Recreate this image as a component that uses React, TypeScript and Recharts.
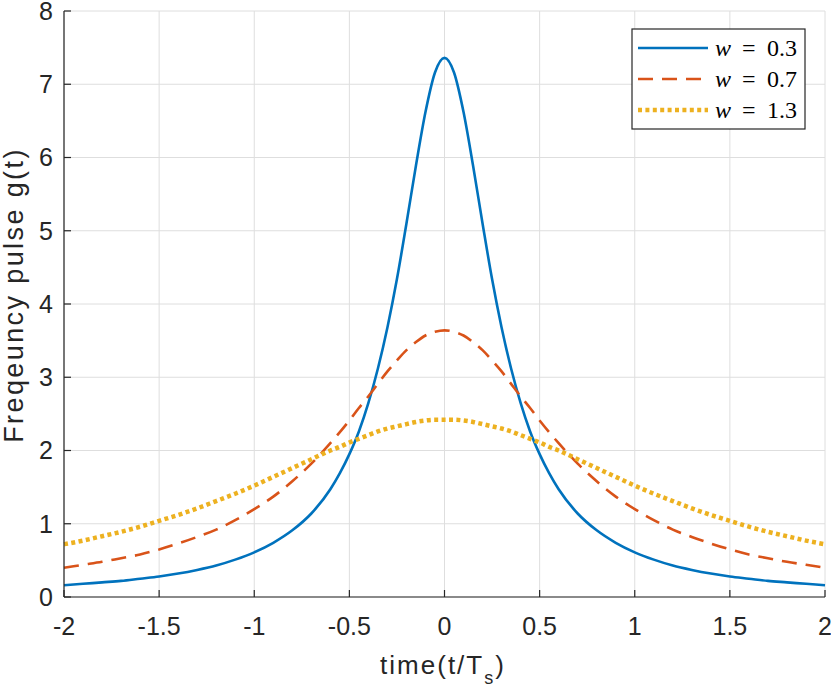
import { LineChart, Line, XAxis, YAxis, CartesianGrid, Label } from 'recharts';

// sample times (t/Ts), denser near the peak
const timeValues = [
  -2, -1.9, -1.8, -1.7, -1.6, -1.5, -1.4, -1.3, -1.2, -1.1, -1, -0.9, -0.8, -0.7, -0.6, -0.55, -0.5, -0.45, -0.4,
  -0.35, -0.3, -0.25, -0.2, -0.15, -0.1, -0.05, 0, 0.05, 0.1, 0.15, 0.2, 0.25, 0.3, 0.35, 0.4, 0.45, 0.5, 0.55,
  0.6, 0.7, 0.8, 0.9, 1, 1.1, 1.2, 1.3, 1.4, 1.5, 1.6, 1.7, 1.8, 1.9, 2,
];

const pulseW03 = [
  0.16, 0.18, 0.2, 0.22, 0.25, 0.28, 0.32, 0.37, 0.43, 0.51, 0.61, 0.74, 0.91, 1.14, 1.47, 1.69, 1.95, 2.26, 2.65,
  3.12, 3.68, 4.34, 5.1, 5.89, 6.62, 7.16, 7.36, 7.16, 6.62, 5.89, 5.1, 4.34, 3.68, 3.12, 2.65, 2.26, 1.95, 1.69,
  1.47, 1.14, 0.91, 0.74, 0.61, 0.51, 0.43, 0.37, 0.32, 0.28, 0.25, 0.22, 0.2, 0.18, 0.16,
];

const pulseW07 = [
  0.4, 0.44, 0.48, 0.53, 0.58, 0.65, 0.73, 0.82, 0.92, 1.05, 1.2, 1.37, 1.58, 1.82, 2.1, 2.25, 2.41, 2.58, 2.74,
  2.91, 3.08, 3.23, 3.37, 3.48, 3.57, 3.62, 3.64, 3.62, 3.57, 3.48, 3.37, 3.23, 3.08, 2.91, 2.74, 2.58, 2.41, 2.25,
  2.1, 1.82, 1.58, 1.37, 1.2, 1.05, 0.92, 0.82, 0.73, 0.65, 0.58, 0.53, 0.48, 0.44, 0.4,
];

const pulseW13 = [
  0.72, 0.77, 0.83, 0.89, 0.96, 1.04, 1.12, 1.21, 1.31, 1.41, 1.52, 1.64, 1.76, 1.88, 2.0, 2.05, 2.11, 2.16, 2.21,
  2.26, 2.3, 2.33, 2.36, 2.39, 2.41, 2.42, 2.42, 2.42, 2.41, 2.39, 2.36, 2.33, 2.3, 2.26, 2.21, 2.16, 2.11, 2.05,
  2.0, 1.88, 1.76, 1.64, 1.52, 1.41, 1.31, 1.21, 1.12, 1.04, 0.96, 0.89, 0.83, 0.77, 0.72,
];

const xTicks = [-2, -1.5, -1, -0.5, 0, 0.5, 1, 1.5, 2];
const yTicks = [0, 1, 2, 3, 4, 5, 6, 7, 8];

const SANS = '"Liberation Sans", Arial, Helvetica, sans-serif';
const SERIF = '"Liberation Serif", "DejaVu Serif", serif';
const AXIS_COLOR = '#262626';

const SERIES = [
  { key: 'w03', label: '0.3', color: '#0072BD', dash: undefined, width: 2.6 },
  { key: 'w07', label: '0.7', color: '#D95319', dash: '15 9', width: 2.6 },
  { key: 'w13', label: '1.3', color: '#EDB120', dash: '4 3.4', width: 4.5 },
];

const data = timeValues.map((t, i) => ({
  t,
  w03: pulseW03[i],
  w07: pulseW07[i],
  w13: pulseW13[i],
}));

function PulseLegend() {
  return (
    <svg width={175} height={102} style={{ position: 'absolute', left: 631, top: 28 }}>
      <rect x={1} y={1} width={173} height={100} fill="#fff" stroke={AXIS_COLOR} strokeWidth={1.2} />
      {SERIES.map((s, i) => {
        const cy = 20 + i * 31;
        return (
          <g key={s.key}>
            <line x1={7} x2={77} y1={cy} y2={cy} stroke={s.color} strokeWidth={s.width} strokeDasharray={s.dash} />
            <text x={84} y={cy + 8} fontFamily={SERIF} fontSize={24} fontStyle="italic" fill="#000">w</text>
            <text x={111} y={cy + 8} fontFamily={SERIF} fontSize={24} fill="#000">=</text>
            <text x={136} y={cy + 8} fontFamily={SERIF} fontSize={24} fill="#000">{s.label}</text>
          </g>
        );
      })}
    </svg>
  );
}

export default function App() {
  return (
    <div style={{ position: 'absolute', left: 0, top: 0, width: 831, height: 688, background: '#fff' }}>
      <LineChart width={831} height={688} data={data} margin={{ top: 11, right: 6, left: 0, bottom: 0 }}>
        <CartesianGrid xAxisId="b" yAxisId="l" stroke="#dedede" strokeWidth={1} />
        <XAxis
          xAxisId="b"
          dataKey="t"
          type="number"
          domain={[-2, 2]}
          ticks={xTicks}
          interval={0}
          height={91}
          stroke={AXIS_COLOR}
          strokeWidth={1.2}
          tickSize={-7}
          tickMargin={27}
          tick={{ fontSize: 25, fill: AXIS_COLOR, fontFamily: SANS }}
        >
          <Label
            content={() => (
              <text x={443} y={674} textAnchor="middle" fontFamily={SANS} fontSize={26} fill={AXIS_COLOR} letterSpacing={2}>
                <tspan>time(t/T</tspan>
                <tspan fontSize={18} dy={10}>s</tspan>
                <tspan dy={-10}>)</tspan>
              </text>
            )}
          />
        </XAxis>
        <XAxis
          xAxisId="t"
          dataKey="t"
          type="number"
          orientation="top"
          domain={[-2, 2]}
          ticks={xTicks}
          height={0}
          stroke={AXIS_COLOR}
          strokeWidth={1.2}
          tickSize={-7}
          tick={false}
        />
        <YAxis
          yAxisId="l"
          type="number"
          domain={[0, 8]}
          ticks={yTicks}
          interval={0}
          width={64}
          stroke={AXIS_COLOR}
          strokeWidth={1.2}
          tickSize={-7}
          tickMargin={18}
          tick={{ fontSize: 25, fill: AXIS_COLOR, fontFamily: SANS }}
        >
          <Label
            content={() => (
              <text
                x={23}
                y={295}
                textAnchor="middle"
                transform="rotate(-90, 23, 295)"
                fontFamily={SANS}
                fontSize={27}
                fill={AXIS_COLOR}
                letterSpacing={2.4}
              >
                Freqeuncy pulse g(t)
              </text>
            )}
          />
        </YAxis>
        <YAxis
          yAxisId="r"
          type="number"
          orientation="right"
          domain={[0, 8]}
          ticks={yTicks}
          width={0}
          stroke={AXIS_COLOR}
          strokeWidth={1.2}
          tickSize={-7}
          tick={false}
        />
        {SERIES.map((s) => (
          <Line
            key={s.key}
            xAxisId="b"
            yAxisId="l"
            type="monotone"
            dataKey={s.key}
            stroke={s.color}
            strokeWidth={s.width}
            strokeDasharray={s.dash}
            dot={false}
            activeDot={false}
            isAnimationActive={false}
          />
        ))}
      </LineChart>
      <PulseLegend />
    </div>
  );
}
